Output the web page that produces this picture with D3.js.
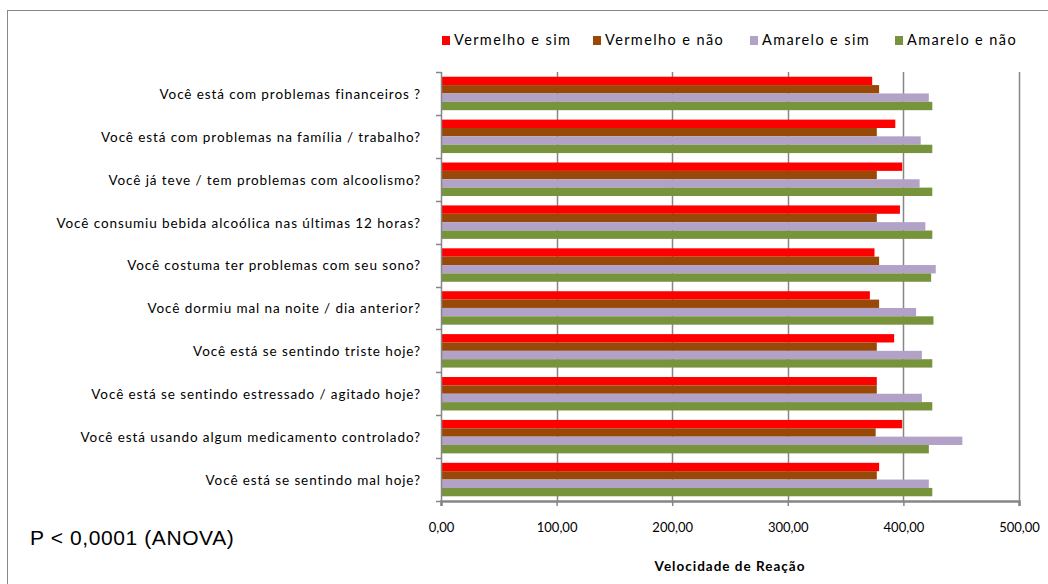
<!DOCTYPE html>
<html>
<head>
<meta charset="utf-8">
<script src="https://cdn.jsdelivr.net/npm/d3@7/dist/d3.min.js"></script>
<style>
  body { margin: 0; background: #fff; }
  svg { display: block; }
  text { font-family: Lato, "Open Sans", sans-serif; fill: #000; }
</style>
</head>
<body>
<div id="chart"></div>
<script>
const categories = [
  "Você está com problemas financeiros ?",
  "Você está com problemas na família / trabalho?",
  "Você já teve / tem problemas com alcoolismo?",
  "Você consumiu bebida alcoólica nas últimas 12 horas?",
  "Você costuma ter problemas com seu sono?",
  "Você dormiu mal na noite / dia anterior?",
  "Você está se sentindo triste hoje?",
  "Você está se sentindo estressado / agitado hoje?",
  "Você está usando algum medicamento controlado?",
  "Você está se sentindo mal hoje?"
];
const seriesNames = ["Vermelho e sim", "Vermelho e não", "Amarelo e sim", "Amarelo e não"];
const seriesColors = ["#ff0000", "#984807", "#b3a2c7", "#77933c"];
const vermelhoSim = [373, 393, 399, 397, 375, 371, 392, 377, 399, 379];
const vermelhoNao = [379, 377, 377, 377, 379, 379, 377, 377, 376, 377];
const amareloSim  = [422, 415, 414, 419, 428, 411, 416, 416, 451, 422];
const amareloNao  = [425, 425, 425, 425, 424, 426, 425, 425, 422, 425];
const xTicks = [0, 100, 200, 300, 400, 500];

const seriesValues = [vermelhoSim, vermelhoNao, amareloSim, amareloNao];

const W = 1048, H = 584;
const margin = { top: 72, right: 29, bottom: 83, left: 441 };
const width = W - margin.left - margin.right;
const height = H - margin.top - margin.bottom;
const axisColor = "#868686";

const root = d3.select("#chart").append("svg")
  .attr("width", W)
  .attr("height", H);

// outer chart border (cut off at right and bottom like the picture)
root.append("rect")
  .attr("x", 7.5).attr("y", 10.5)
  .attr("width", W + 10).attr("height", H + 10)
  .attr("fill", "none")
  .attr("stroke", "#888")
  .attr("stroke-width", 1);

const svg = root.append("g")
  .attr("transform", `translate(${margin.left},${margin.top})`);

const x = d3.scaleLinear().domain([0, 500]).range([0, width]);
const y = d3.scaleBand().domain(categories).range([0, height]).paddingInner(0.22).paddingOuter(0.11);
const ySub = d3.scaleBand().domain(d3.range(seriesNames.length)).range([0, y.bandwidth()]);

// vertical gridlines
svg.append("g")
  .selectAll("line")
  .data(xTicks.slice(1))
  .join("line")
  .attr("x1", d => Math.round(x(d)) + 0.5)
  .attr("x2", d => Math.round(x(d)) + 0.5)
  .attr("y1", 0)
  .attr("y2", height)
  .attr("stroke", axisColor)
  .attr("stroke-width", 1.5);

// bars
categories.forEach((cat, i) => {
  const g = svg.append("g").attr("transform", `translate(0,${y(cat)})`);
  g.selectAll("rect")
    .data(seriesValues.map((vals, s) => ({ s, v: vals[i] })))
    .join("rect")
    .attr("x", 1)
    .attr("y", d => ySub(d.s))
    .attr("width", d => x(d.v) - 1)
    .attr("height", ySub.bandwidth())
    .attr("fill", d => seriesColors[d.s]);
});

// y axis with ticks at category boundaries
const step = height / categories.length;
svg.append("line")
  .attr("x1", 0.5).attr("x2", 0.5)
  .attr("y1", 0).attr("y2", height)
  .attr("stroke", axisColor).attr("stroke-width", 1.5);
svg.append("g")
  .selectAll("line")
  .data(d3.range(categories.length + 1))
  .join("line")
  .attr("x1", -5).attr("x2", 0.5)
  .attr("y1", d => Math.round(d * step) + 0.5)
  .attr("y2", d => Math.round(d * step) + 0.5)
  .attr("stroke", axisColor).attr("stroke-width", 1.5);

svg.append("g")
  .selectAll("text")
  .data(categories)
  .join("text")
  .attr("x", -20)
  .attr("y", d => y(d) + y.bandwidth() / 2 + 2)
  .attr("text-anchor", "end")
  .attr("dominant-baseline", "middle")
  .style("font-size", "13.5px")
  .style("letter-spacing", "0.9px")
  .text(d => d);

// x axis
const xAxis = svg.append("g")
  .attr("transform", `translate(0,${height})`)
  .call(d3.axisBottom(x).tickValues(xTicks).tickSize(5).tickPadding(17)
    .tickFormat(d => d3.format(".2f")(d).replace(".", ",")));
xAxis.select(".domain").attr("stroke", axisColor).attr("stroke-width", 2.5);
xAxis.selectAll(".tick line").attr("stroke", axisColor).attr("stroke-width", 1.5);
xAxis.selectAll(".tick text")
  .style("font-size", "13px")
  .style("font-family", "Lato, sans-serif")
  .attr("fill", "#000");

svg.append("text")
  .attr("x", width / 2)
  .attr("y", height + 70)
  .attr("text-anchor", "middle")
  .style("font-size", "13.5px")
  .style("font-weight", "bold")
  .style("letter-spacing", "1px")
  .text("Velocidade de Reação");

// ANOVA note
root.append("text")
  .attr("x", 30)
  .attr("y", 545)
  .style("font-family", "'Liberation Sans', Arial, sans-serif")
  .style("font-size", "21px")
  .style("letter-spacing", "0.6px")
  .text("P < 0,0001 (ANOVA)");

// legend
const legendX = [442, 593, 750, 895];
const legend = root.append("g");
seriesNames.forEach((name, i) => {
  legend.append("rect")
    .attr("x", legendX[i]).attr("y", 36)
    .attr("width", 8).attr("height", 9)
    .attr("fill", seriesColors[i]);
  legend.append("text")
    .attr("x", legendX[i] + 12)
    .attr("y", 41)
    .attr("dominant-baseline", "middle")
    .style("font-size", "14.5px")
    .style("letter-spacing", "1.4px")
    .text(name);
});
</script>
</body>
</html>
